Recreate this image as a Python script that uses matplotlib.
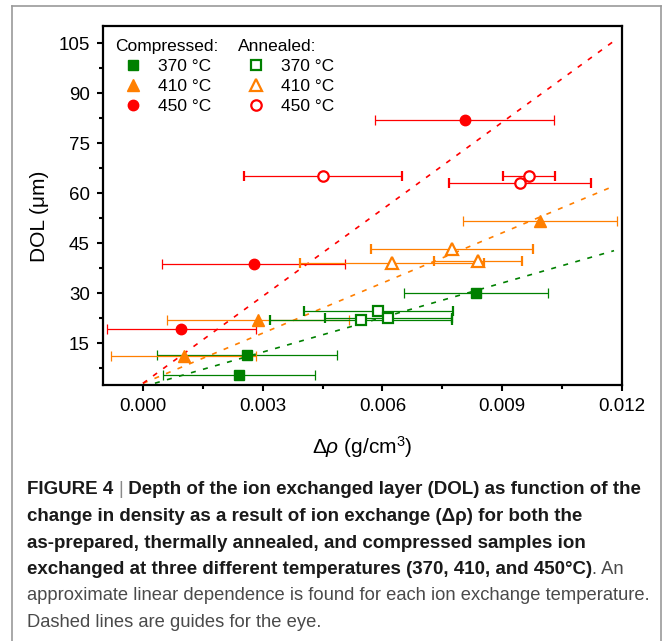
import matplotlib
matplotlib.use('Agg')
import matplotlib.pyplot as plt
from matplotlib.lines import Line2D

plt.rcParams['font.family'] = ['Liberation Sans', 'DejaVu Sans']
plt.rcParams['mathtext.fontset'] = 'custom'
plt.rcParams['mathtext.rm'] = 'Liberation Sans'
plt.rcParams['mathtext.it'] = 'Liberation Sans:italic'

# delta rho (g/cm3), DOL (um) and x error
comp_370_x = [0.0024, 0.0026, 0.00835]
comp_370_y = [5.4, 11.5, 30.0]
comp_370_err = [0.0019, 0.00225, 0.0018]

comp_410_x = [0.00102, 0.00288, 0.00995]
comp_410_y = [11.2, 22.0, 51.7]
comp_410_err = [0.00182, 0.00228, 0.00193]

comp_450_x = [0.00096, 0.00277, 0.00806]
comp_450_y = [19.3, 38.7, 82.1]
comp_450_err = [0.00187, 0.0023, 0.00224]

ann_370_x = [0.00546, 0.0059, 0.00615]
ann_370_y = [22.1, 24.6, 22.7]
ann_370_err = [0.00228, 0.00186, 0.0016]

ann_410_x = [0.00624, 0.00774, 0.0084]
ann_410_y = [39.0, 43.4, 39.8]
ann_410_err = [0.0023, 0.00203, 0.0011]

ann_450_x = [0.0045, 0.00945, 0.00967]
ann_450_y = [65.1, 63.1, 65.3]
ann_450_err = [0.00198, 0.00178, 0.00066]

# dashed guide lines (end points)
guide_x = [0.0, 0.0118]
guide_370 = [2.0, 42.8]
guide_410 = [3.0, 62.2]
guide_450 = [3.0, 105.7]

temps = ['370 °C', '410 °C', '450 °C']
green = '#008000'
orange = '#ff7f00'
red = '#ff0000'

fig = plt.figure(figsize=(6.63, 6.41), dpi=100)
ax = fig.add_axes([103 / 663, 1 - 385 / 641, 519 / 663, 359 / 641])

for gy, c in [(guide_370, green), (guide_410, orange), (guide_450, red)]:
    ax.plot(guide_x, gy, color=c, lw=1.2, linestyle=(0, (3, 4.5)), zorder=1)

eb = dict(linestyle='none', elinewidth=0.9, capsize=3.5, capthick=0.9, zorder=2)
ax.errorbar(comp_370_x, comp_370_y, xerr=comp_370_err, marker='s', ms=7, color=green, **eb)
ax.errorbar(comp_410_x, comp_410_y, xerr=comp_410_err, marker='^', ms=9, color=orange, **eb)
ax.errorbar(comp_450_x, comp_450_y, xerr=comp_450_err, marker='o', ms=7.5, color=red, **eb)
ax.errorbar(ann_370_x, ann_370_y, xerr=ann_370_err, marker='s', ms=7, color=green,
            mfc='white', mew=1.6, **eb)
ax.errorbar(ann_410_x, ann_410_y, xerr=ann_410_err, marker='^', ms=9, color=orange,
            mfc='white', mew=1.6, **eb)
ax.errorbar(ann_450_x, ann_450_y, xerr=ann_450_err, marker='o', ms=7.5, color=red,
            mfc='white', mew=1.6, **eb)

ax.set_xlim(-0.001, 0.012)
ax.set_ylim(2.5, 110.2)
ax.set_xticks([0.0, 0.003, 0.006, 0.009, 0.012])
ax.set_xticklabels(['0.000', '0.003', '0.006', '0.009', '0.012'])
ax.set_xticks([0.0015, 0.0045, 0.0075, 0.0105], minor=True)
ax.set_yticks([15, 30, 45, 60, 75, 90, 105])
ax.set_yticks([7.5, 22.5, 37.5, 52.5, 67.5, 82.5, 97.5], minor=True)
ax.set_xlim(-0.001, 0.012)
ax.tick_params(which='major', direction='out', length=4.5, width=1.5, labelsize=13.5, pad=5)
ax.tick_params(which='minor', direction='out', length=3, width=1.5)
for s in ax.spines.values():
    s.set_linewidth(1.6)

ax.set_xlabel(r'$\Delta\rho$ (g/cm$^3$)', fontsize=15)
ax.xaxis.set_label_coords(0.5, -0.137)
ax.set_ylabel('DOL (μm)', fontsize=15)
ax.yaxis.set_label_coords(-0.104, 0.47)

markers = ['s', '^', 'o']
sizes = [7, 9, 7.5]
colors = [green, orange, red]
comp_handles = [Line2D([], [], marker=m, ms=s, color=c, linestyle='none')
                for m, s, c in zip(markers, sizes, colors)]
ann_handles = [Line2D([], [], marker=m, ms=s, color=c, mfc='white', mew=1.6, linestyle='none')
               for m, s, c in zip(markers, sizes, colors)]

leg_kw = dict(loc='upper left', frameon=False, borderpad=0, borderaxespad=0,
              handlelength=2.07, handletextpad=0.4, labelspacing=0.27,
              fontsize=12.5, title_fontsize=12.5, alignment='left')
leg1 = ax.legend(comp_handles, temps, title='Compressed:',
                 bbox_to_anchor=(0.023, 0.963), **leg_kw)
ax.add_artist(leg1)
ax.legend(ann_handles, temps, title='Annealed:',
          bbox_to_anchor=(0.2595, 0.963), **leg_kw)

# page frame
frame_kw = dict(transform=fig.transFigure, color='#9a9a9a', lw=1.2)
fig.add_artist(Line2D([12 / 663, 12 / 663], [0, 1 - 6 / 641], **frame_kw))
fig.add_artist(Line2D([661 / 663, 661 / 663], [0, 1 - 6 / 641], **frame_kw))
fig.add_artist(Line2D([12 / 663, 661 / 663], [1 - 6 / 641, 1 - 6 / 641], **frame_kw))

# caption
cap_font = ['Liberation Sans', 'DejaVu Sans']
bold_col = '#1a1a1a'
reg_col = '#4a4a4a'
x0 = 27 / 663
line_y = [490, 516.5, 543, 569.5, 596, 622.5]
renderer = fig.canvas.get_renderer()


def put(x, y, s, weight, color, size=13.5):
    t = fig.text(x, 1 - y / 641, s, fontsize=size, family=cap_font,
                 weight=weight, color=color, va='center', ha='left')
    return t.get_window_extent(renderer).x1 / fig.bbox.width


x = put(x0, line_y[0], 'FIGURE 4 ', 'bold', bold_col)
x = put(x, line_y[0], '|', 'light', '#8a8a8a')
put(x, line_y[0], ' Depth of the ion exchanged layer (DOL) as function of the', 'bold', bold_col)
put(x0, line_y[1], 'change in density as a result of ion exchange (Δρ) for both the', 'bold', bold_col)
put(x0, line_y[2], 'as-prepared, thermally annealed, and compressed samples ion', 'bold', bold_col)
x = put(x0, line_y[3], 'exchanged at three different temperatures (370, 410, and 450°C)', 'bold', bold_col)
put(x, line_y[3], '. An', 'normal', reg_col, 13.2)
put(x0, line_y[4], 'approximate linear dependence is found for each ion exchange temperature.',
    'normal', reg_col, 13.2)
put(x0, line_y[5], 'Dashed lines are guides for the eye.', 'normal', reg_col, 13.2)

fig.savefig('out.png', dpi=100)
